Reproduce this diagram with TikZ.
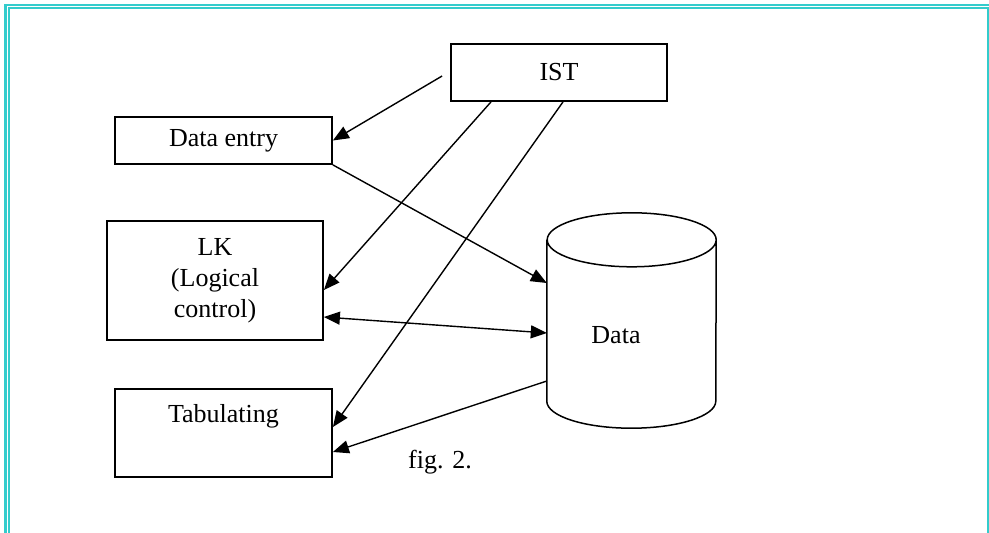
\documentclass[tikz,border=0pt]{standalone}
\usepackage{fontspec}
\setmainfont{Liberation Serif}
\usepackage{tikz}
\usetikzlibrary{arrows.meta,positioning,calc}
\definecolor{frameteal}{HTML}{33CCCC}

\begin{document}
\begin{tikzpicture}[x=1pt,y=-1pt,every node/.style={font=\fontsize{26}{31}\selectfont},box/.style={draw,line width=1.8pt,align=center,inner sep=0pt},arr/.style={-{Triangle[length=16pt,width=13pt]},line width=1.4pt},frame/.style={draw=frameteal,line width=2.2pt}]
\useasboundingbox (0,0) rectangle (989,533);
\draw[frame] (5.5,533) -- (5.5,5) -- (989,5);
\draw[frame] (9,533) -- (9,8) -- (988,8) -- (988,533);
\node[box,minimum width=216pt,minimum height=57pt] (ist) at (559,72.5) {IST};
\node[box,minimum width=217pt,minimum height=47pt] (entry) at (223.5,140.5) {Data entry};
\node[box,minimum width=216pt,minimum height=119pt] (lk) at (215,280.5) {LK\\(Logical\\control)};
\node[box,minimum width=217pt,minimum height=88pt] (tab) at (223.5,433) {};
\node (tabtext) at (223.5,416) {Tabulating};
\node[minimum width=169pt,minimum height=161pt,inner sep=0pt] (data) at (631.5,320.5) {};
\draw[line width=1.5pt] (data.north west) -- (data.south west) arc[start angle=180,end angle=360,x radius=84.5pt,y radius=27pt] -- (data.north east) arc[start angle=0,end angle=360,x radius=84.5pt,y radius=27pt];
\node (datatext) at (616,335) {Data};
\node (figcap) at (440,462) {fig. 2.};
\draw[arr] ($(ist.west)+(-8,3.5)$) -- (entry.east);\draw[arr] (entry.south east) -- ($(data.west)+(0,-37.5)$);\draw[arr] ($(ist.south)+(-68,0)$) -- ($(lk.east)+(0,9.5)$);\draw[arr] ($(ist.south)+(4,0)$) -- ($(tab.east)+(0,-6)$);
\draw[arr,{Triangle[length=16pt,width=13pt]}-{Triangle[length=16pt,width=13pt]}] ($(lk.east)+(0,36.5)$) -- ($(data.west)+(0,12.5)$);\draw[arr] ($(data.west)+(0,60.5)$) -- ($(tab.east)+(0,19)$);
\end{tikzpicture}
\end{document}
